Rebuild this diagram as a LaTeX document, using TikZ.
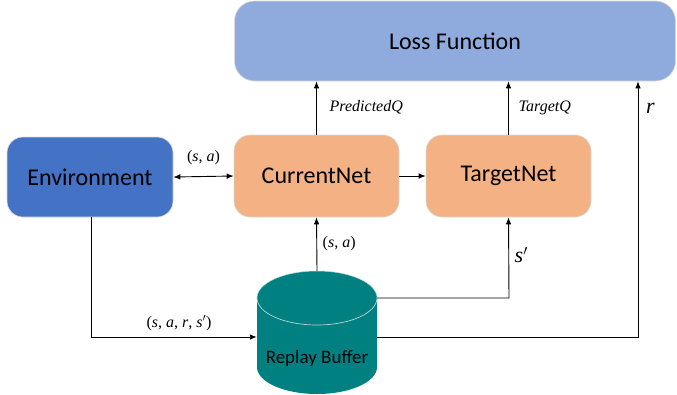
\documentclass[tikz,border=0pt]{standalone}
\usepackage{fontspec}
\setmainfont{Carlito}
\newfontfamily\lblfont{Liberation Serif}
\usetikzlibrary{arrows.meta}

\definecolor{lossblue}{RGB}{143,170,220}
\definecolor{envblue}{RGB}{68,114,196}
\definecolor{netorange}{RGB}{244,177,131}
\definecolor{bufteal}{RGB}{0,128,128}

\tikzset{
  block/.style={rectangle, rounded corners=16pt, draw=gray!30, line width=0.6pt,
    font=\fontsize{24}{28}\selectfont, text=black, inner sep=0pt},
  flow/.style={-{Latex[length=7pt,width=5.5pt]}, line width=0.9pt},
  flowboth/.style={{Latex[length=7pt,width=5.5pt]}-{Latex[length=7pt,width=5.5pt]}, line width=0.9pt},
  lbl/.style={font=\lblfont\fontsize{16}{19}\selectfont, inner sep=0pt}
}

\begin{document}
\begin{tikzpicture}[x=1pt,y=-1pt]
        \useasboundingbox (0,0) rectangle (677,394);
        % the buffer drum
        \fill[bufteal] (257,298) -- (257,367) arc (180:360:60pt and 27pt) -- (377,298) arc (0:180:60pt and 27pt) -- cycle;
        \draw[white!70!bufteal, line width=0.7pt] (257,298) arc (180:360:60pt and 27pt);
        \draw[white!70!bufteal, line width=0.5pt] (257,298) arc (180:0:60pt and 27pt);
        \scoped{
                \node (loss) [block, fill=lossblue, rounded corners=20pt, minimum width=441pt, minimum height=80pt] at (455,41) {Loss Function};
                \node (env) [block, fill=envblue, minimum width=166pt, minimum height=80pt] at (90,177) {Environment};
                \node (cur) [block, fill=netorange, minimum width=165pt, minimum height=82pt] at (316.5,176) {CurrentNet};
                \node (tgt) [block, fill=netorange, minimum width=165pt, minimum height=82pt] at (508.5,176) {TargetNet};
                \node (buf) [rectangle, inner sep=0pt, minimum width=120pt, minimum height=123pt] at (317,332.5) {};
                \node (buftext) [font=\fontsize{19}{23}\selectfont, inner sep=0pt] at (317,358) {Replay Buffer};
            };
            % corners of the connectors
            \coordinate (sbend) at (509,298);
            \coordinate (ebend) at (91,337);
            \coordinate (rbend) at (638,337);

            \draw[flowboth] (env.east) -- (cur.west);
            \draw[flow] (cur.north) -- (cur.north |- loss.south);
            \draw[flow] (tgt.north) -- (tgt.north |- loss.south);
            \draw[flow] (cur.east) -- (tgt.west);
            \draw[flow] (buf.north) -- (cur.south);
            \draw[flow] (buf.east |- sbend) -- (sbend) -- (tgt.south);
            \draw[flow] (env.south -| ebend) -- (ebend) -- (buf.west |- ebend);
            \draw[flow] (buf.east |- rbend) -- (rbend) -- (rbend |- loss.south);

            \path (env.east) -- (cur.west) node [lbl, midway, yshift=19pt] {(\textit{s}, \textit{a})};
            \path (cur.north) -- +(13,-27) node [lbl, anchor=west] {\textit{PredictedQ}};
            \path (tgt.north) -- +(10,-27) node [lbl, anchor=west] {\textit{TargetQ}};
            \path (rbend |- loss.south) -- +(8,27) node [font=\lblfont\fontsize{22}{26}\selectfont, anchor=west, inner sep=0pt] {\textit{r}};
            \path (cur.south) -- +(6,26) node [lbl, anchor=west] {(\textit{s}, \textit{a})};
            \path (tgt.south) -- +(6,38) node [font=\lblfont\fontsize{22}{26}\selectfont, anchor=west, inner sep=0pt] {\textit{s}$'$};
            \path (ebend) -- +(88,-14) node [lbl] {(\textit{s}, \textit{a}, \textit{r}, \textit{s}$'$)};
    \end{tikzpicture}
\end{document}
